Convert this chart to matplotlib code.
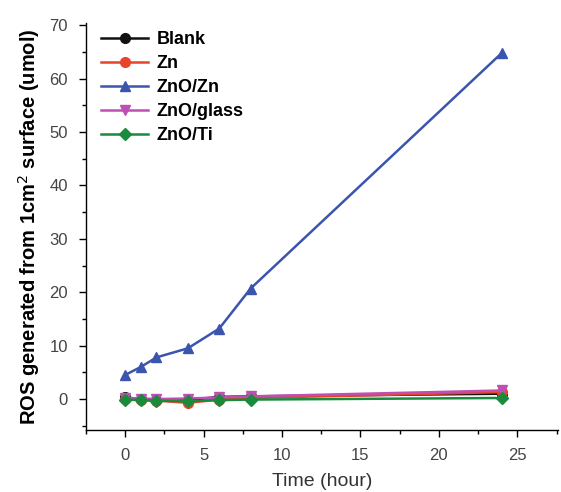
import numpy as np
import matplotlib.pyplot as plt

plt.rcParams['font.family'] = ['Liberation Sans', 'DejaVu Sans']

# data
time_h = [0, 1, 2, 4, 6, 8, 24]
blank = [0.3, 0.0, -0.1, -0.2, 0.4, 0.5, 1.0]
zn = [0.1, -0.2, -0.3, -0.7, -0.1, 0.2, 1.3]
zno_zn = [4.5, 6.0, 7.8, 9.5, 13.2, 20.7, 64.8]
zno_glass = [0.2, 0.1, 0.0, 0.1, 0.3, 0.5, 1.6]
zno_ti = [-0.1, -0.2, -0.3, -0.4, -0.2, -0.1, 0.2]

series = [
    ("Blank", blank, "#111111", "o"),
    ("Zn", zn, "#e8432b", "o"),
    ("ZnO/Zn", zno_zn, "#3b55ae", "^"),
    ("ZnO/glass", zno_glass, "#c04fb4", "v"),
    ("ZnO/Ti", zno_ti, "#1a8a3c", "D"),
]

fig = plt.figure(figsize=(5.61, 4.92), dpi=100)
ax = fig.add_axes([0.153, 0.126, 0.842, 0.828])

for name, vals, col, mk in series:
    ax.plot(time_h, vals, color=col, marker=mk, lw=1.8, ms=7 if mk != "D" else 6,
            label=name)

ax.set_xlim(-2.5, 27.6)
ax.set_ylim(-5.8, 70.5)
ax.set_xticks([0, 5, 10, 15, 20, 25])
ax.set_xticks(np.arange(-2.5, 27.6, 2.5), minor=True)
ax.set_yticks(np.arange(0, 71, 10))
ax.set_yticks(np.arange(-5, 71, 5), minor=True)

for s in ("top", "right"):
    ax.spines[s].set_visible(False)
ax.spines["left"].set_linewidth(1.0)
ax.spines["bottom"].set_linewidth(1.0)
ax.tick_params(which="major", direction="out", length=5, width=1, labelsize=12,
               labelcolor="#444444", pad=8)
ax.tick_params(which="minor", direction="out", length=3, width=1)

ax.set_xlabel("Time (hour)", fontsize=14, color="#333333", labelpad=7)
ax.set_ylabel("ROS generated from 1cm$^2$ surface (umol)", fontsize=14.5,
              fontweight="bold", labelpad=5)

leg = ax.legend(loc="upper left", bbox_to_anchor=(0.01, 1.005), frameon=False,
                prop={"weight": "bold", "size": 13}, handlelength=2.6,
                handletextpad=0.45, labelspacing=0.38, borderaxespad=0.2)

fig.savefig("out.png", dpi=100)
